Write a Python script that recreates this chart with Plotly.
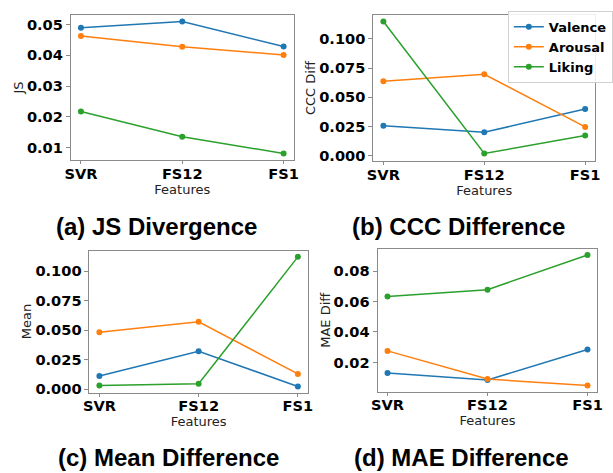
import plotly.graph_objects as go

W, H = 613, 473

features = ["SVR", "FS12", "FS1"]
series_names = ["Valence", "Arousal", "Liking"]
colors = ["#1f77b4", "#ff7f0e", "#2ca02c"]

js_valence = [0.0490, 0.0510, 0.0429]
js_arousal = [0.0463, 0.0428, 0.0401]
js_liking = [0.0217, 0.0135, 0.0080]

ccc_valence = [0.0257, 0.0200, 0.0400]
ccc_arousal = [0.0638, 0.0697, 0.0246]
ccc_liking = [0.1149, 0.0019, 0.0172]

mean_valence = [0.0112, 0.0322, 0.0022]
mean_arousal = [0.0482, 0.0571, 0.0129]
mean_liking = [0.0031, 0.0045, 0.1123]

mae_valence = [0.0130, 0.0085, 0.0285]
mae_arousal = [0.0276, 0.0091, 0.0048]
mae_liking = [0.0633, 0.0678, 0.0906]

y_titles = ["JS", "CCC Diff", "Mean", "MAE Diff"]
captions = ["(a) JS Divergence", "(b) CCC Difference", "(c) Mean Difference", "(d) MAE Difference"]

panels = [
    [js_valence, js_arousal, js_liking],
    [ccc_valence, ccc_arousal, ccc_liking],
    [mean_valence, mean_arousal, mean_liking],
    [mae_valence, mae_arousal, mae_liking],
]

# pixel boxes (left, top, right, bottom)
boxes = [
    (66, 15, 293, 162),
    (374, 15, 600, 163),
    (85, 253.3, 307.3, 396.7),
    (378.3, 251.7, 602.3, 395.7),
]
yranges = [
    (0.0058, 0.0532),
    (-0.0048, 0.1206),
    (-0.0029, 0.1176),
    (0.0009, 0.0945),
]
ytickvals = [
    [0.01, 0.02, 0.03, 0.04, 0.05],
    [0.0, 0.025, 0.05, 0.075, 0.1],
    [0.0, 0.025, 0.05, 0.075, 0.1],
    [0.02, 0.04, 0.06, 0.08],
]
ytickfmt = [".2f", ".3f", ".3f", ".2f"]
caption_pos = [(153, 229), (461, 229), (165, 462), (464, 462)]

fig = go.Figure()
tickfont = dict(family="DejaVu Sans", size=14.6, color="black", weight="bold")
titlefont = dict(family="DejaVu Sans", size=13, color="#222")
frame = "#8a8a8a"

layout = dict(width=W, height=H, margin=dict(l=0, r=0, t=0, b=0),
              paper_bgcolor="white", plot_bgcolor="white")

for i, data in enumerate(panels):
    n = "" if i == 0 else str(i + 1)
    xa = "x" + n
    ya = "y" + n
    for j, vals in enumerate(data):
        fig.add_trace(go.Scatter(
            x=features, y=vals, mode="lines+markers", name=series_names[j],
            line=dict(color=colors[j], width=1.5),
            marker=dict(color=colors[j], size=6),
            xaxis=xa, yaxis=ya, showlegend=(i == 1),
        ))
    l, t, r, b = boxes[i]
    layout["xaxis" + n] = dict(
        domain=[l / W, r / W], anchor=ya, type="category", range=[-0.1, 2.1],
        showline=True, mirror=True, linecolor=frame, linewidth=1,
        ticks="outside", ticklen=3, tickcolor=frame, showgrid=False, zeroline=False,
        ticklabelstandoff=-3,
        tickfont=tickfont, title=dict(text="Features", font=titlefont, standoff=0),
    )
    layout["yaxis" + n] = dict(
        domain=[1 - b / H, 1 - t / H], anchor=xa, range=list(yranges[i]),
        tickvals=ytickvals[i], tickformat=ytickfmt[i],
        showline=True, mirror=True, linecolor=frame, linewidth=1,
        ticks="outside", ticklen=4, tickcolor=frame, showgrid=False, zeroline=False,
        tickfont=tickfont, title=dict(text=y_titles[i], font=titlefont, standoff=0),
    )

annotations = []
for i, cap in enumerate(captions):
    cx, cy = caption_pos[i]
    annotations.append(dict(
        text=cap, x=cx / W, y=1 - cy / H, xref="paper", yref="paper",
        xanchor="center", yanchor="middle", showarrow=False,
        font=dict(family="Liberation Sans", size=24, color="black", weight="bold"),
    ))
layout["annotations"] = annotations
layout["legend"] = dict(
    x=511 / W, y=1 - 11 / H, xanchor="left", yanchor="top",
    bgcolor="rgba(255,255,255,0.85)", bordercolor="#d0d0d0", borderwidth=1,
    font=dict(family="DejaVu Sans", size=13, color="black", weight="bold"),
    tracegroupgap=0,
)
fig.update_layout(**layout)
fig.write_html(
    "out.html",
    config={"displayModeBar": False},
    post_script="document.body.style.margin='0px';document.body.style.overflow='hidden';",
)
